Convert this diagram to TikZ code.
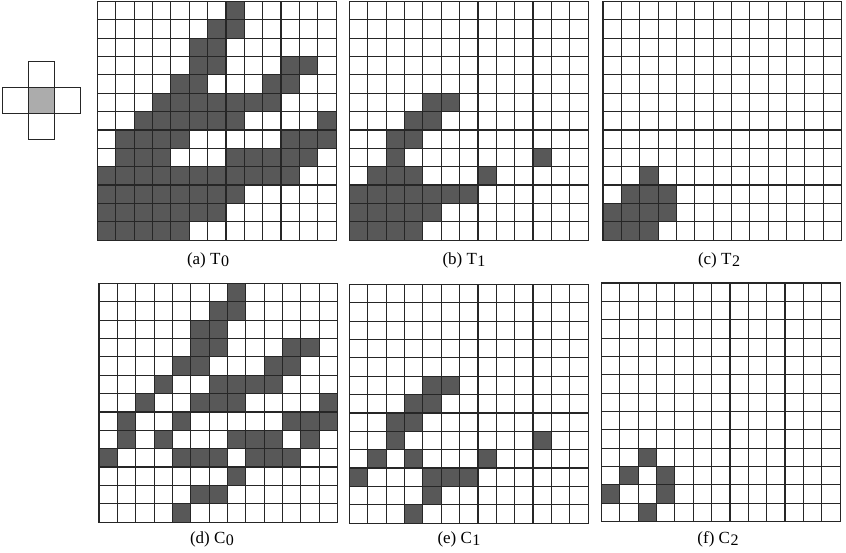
\documentclass[tikz,border=0pt]{standalone}
\usepackage{fontspec}
\setmainfont{Liberation Serif}
\definecolor{cellfill}{RGB}{88,88,88}
\definecolor{stencilfill}{RGB}{172,172,172}
\newcommand\mysub[1]{\kern0.5pt\raisebox{-2.5pt}{\fontsize{16}{17}\selectfont #1}}
\newcommand\cs{18.35}
% #1 x0, #2 y0, #3 list row/{cols}
\newcommand\drawgrid[3]{%
  \begin{scope}[shift={(#1,#2)}]
    \foreach \r/\cols in {#3}{%
      \foreach \c in \cols {%
        \fill[cellfill] (\c*\cs,\r*\cs) rectangle ++(\cs,\cs);
      }%
    }%
    \foreach \i in {0,...,13}{%
      \draw[gridline] (\i*\cs,0) -- (\i*\cs,13*\cs);
      \draw[gridline] (0,\i*\cs) -- (13*\cs,\i*\cs);
    }%
  \end{scope}%
}
\begin{document}
\begin{tikzpicture}[x=1pt,y=-1pt,
  gridline/.style={line width=1.1pt, black!85, line cap=rect},
  stencilbox/.style={draw=black!85, line width=1.1pt},
  caption/.style={font=\fontsize{17}{19}\selectfont, inner sep=0pt, anchor=base}]
\useasboundingbox (0,0) rectangle (846,552);

% stencil
\fill[stencilfill] (28.3,87.3) rectangle ++(26,26);
\draw[stencilbox] (28.3,87.3) rectangle ++(26,26);
\draw[stencilbox] (28.3,61.3) rectangle ++(26,26);
\draw[stencilbox] (28.3,113.3) rectangle ++(26,26);
\draw[stencilbox] (2.3,87.3) rectangle ++(26,26);
\draw[stencilbox] (54.3,87.3) rectangle ++(26,26);

% (a) T0
\drawgrid{97.5}{1.5}{0/{7},1/{6,7},2/{5,6},3/{5,6,10,11},4/{4,5,9,10},5/{3,...,9},6/{2,...,7,12},7/{1,2,3,4,10,11,12},8/{1,2,3,7,8,9,10,11},9/{0,...,10},10/{0,...,7},11/{0,...,6},12/{0,...,4}}
% (b) T1
\drawgrid{349.5}{1.5}{5/{4,5},6/{3,4},7/{2,3},8/{2,10},9/{1,2,3,7},10/{0,...,6},11/{0,...,4},12/{0,...,3}}
% (c) T2
\drawgrid{603}{1.5}{9/{2},10/{1,2,3},11/{0,...,3},12/{0,1,2}}
% (d) C0
\drawgrid{99}{283.5}{0/{7},1/{6,7},2/{5,6},3/{5,6,10,11},4/{4,5,9,10},5/{3,6,7,8,9},6/{2,5,6,7,12},7/{1,4,10,11,12},8/{1,3,7,8,9,11},9/{0,4,5,6,8,9,10},10/{7},11/{5,6},12/{4}}
% (e) C1
\drawgrid{349.5}{284.5}{5/{4,5},6/{3,4},7/{2,3},8/{2,10},9/{1,3,7},10/{0,4,5,6},11/{4},12/{3}}
% (f) C2
\drawgrid{601.5}{283}{9/{2},10/{1,3},11/{0,3},12/{2}}

% captions
\node[caption] (capa) at (208,264) {(a) T\mysub{0}};
\node[caption] (capb) at (464,264) {(b) T\mysub{1}};
\node[caption] (capc) at (719,264) {(c) T\mysub{2}};
\node[caption] (capd) at (212,543) {(d) C\mysub{0}};
\node[caption] (cape) at (459,543) {(e) C\mysub{1}};
\node[caption] (capf) at (718,543) {(f) C\mysub{2}};
\end{tikzpicture}
\end{document}
